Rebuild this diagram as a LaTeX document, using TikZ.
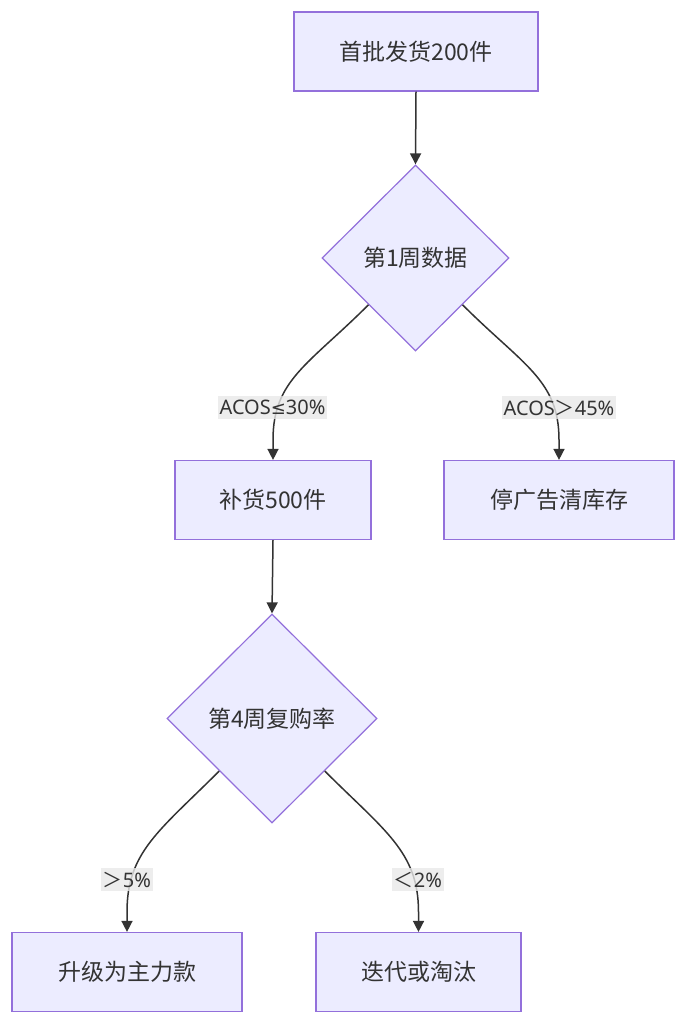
\documentclass[tikz,border=0pt]{standalone}
\usepackage{fontspec}
\setmainfont{Noto Sans CJK SC}
\newfontfamily\latinlbl{Noto Sans}
\newfontfamily\symfont{DejaVu Sans}
\usetikzlibrary{shapes.geometric,arrows.meta,calc}
\definecolor{nodefill}{HTML}{ECECFF}
\definecolor{nodestroke}{HTML}{9370DB}
\definecolor{txt}{HTML}{333333}
\definecolor{lbl}{HTML}{E8E8E8}
\tikzset{
  procbox/.style={draw=nodestroke, fill=nodefill, line width=1.2pt, text=txt,
    minimum height=79pt, inner sep=0pt, font=\fontsize{23}{27}\selectfont},
  decide/.style={diamond, draw=nodestroke, fill=nodefill, line width=1.2pt, text=txt,
    inner sep=0pt, font=\fontsize{23}{27}\selectfont},
  edge/.style={draw=txt, line width=1.5pt, -{Triangle[length=11pt,width=11pt]}},
  elabel/.style={fill=lbl, fill opacity=0.8, text opacity=1, text=txt,
    inner xsep=2pt, inner ysep=4pt, font=\fontsize{20}{24}\selectfont}
}
\begin{document}
\begin{tikzpicture}[x=1pt,y=-1pt]
\useasboundingbox (0,0) rectangle (686,1024);
\node[procbox, minimum width=244pt] (A) at (416,51.5) {首批发货200件};
\node[decide, minimum width=187pt, minimum height=186pt] (B) at (415.5,258) {第1周数据};
\node[procbox, minimum width=196pt] (C) at (273,500) {补货500件};
\node[procbox, minimum width=230pt] (D) at (559,500) {停广告清库存};
\node[decide, minimum width=210pt, minimum height=209pt] (E) at (272,718.5) {第4周复购率};
\node[procbox, minimum width=230pt] (F) at (127,972) {升级为主力款};
\node[procbox, minimum width=205pt] (G) at (418.5,972) {迭代或淘汰};

\draw[edge] (A.south) -- (B.north);
\draw[edge] (B.south west) .. controls +(-60,60) and +(0,-60) .. ([yshift=20pt]C.north) -- (C.north);
\draw[edge] (B.south east) .. controls +(60,60) and +(0,-60) .. ([yshift=20pt]D.north) -- (D.north);
\draw[edge] (C.south) -- (E.north);
\draw[edge] (E.south west) .. controls +(-60,60) and +(0,-60) .. ([yshift=20pt]F.north) -- (F.north);
\draw[edge] (E.south east) .. controls +(60,60) and +(0,-60) .. ([yshift=20pt]G.north) -- (G.north);

\node[elabel] (l1) at (272.5,407.5) {{\latinlbl ACOS}{\symfont\fontsize{18}{22}\selectfont ≤}{\latinlbl 30\%}};
\node[elabel] (l2) at (559,407.5) {{\latinlbl ACOS}＞{\latinlbl 45\%}};
\node[elabel] (l3) at (127,879.5) {＞{\latinlbl 5\%}};
\node[elabel] (l4) at (418,879.5) {＜{\latinlbl 2\%}};
\end{tikzpicture}
\end{document}
